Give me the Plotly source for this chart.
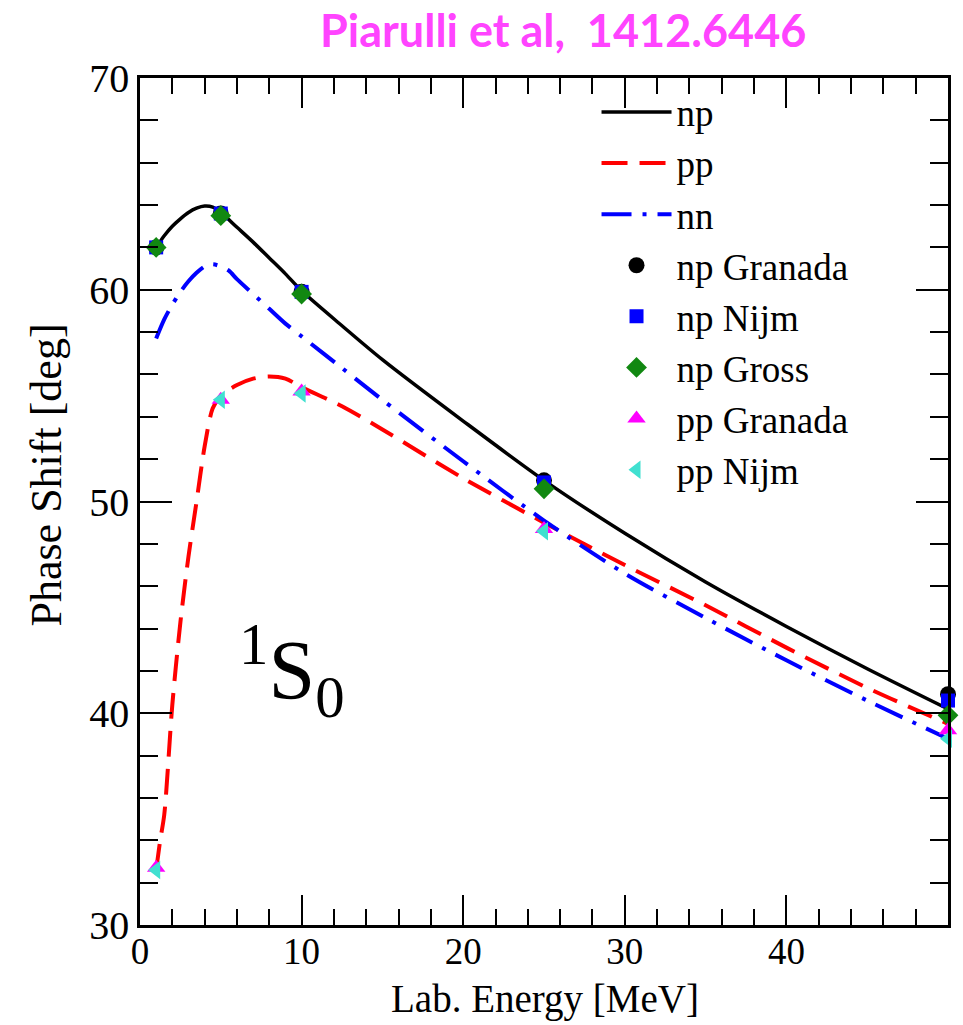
import plotly.graph_objects as go

# ---- data ----
E_np = [1, 1.5, 2, 2.5, 3, 3.5, 4, 4.5, 5, 6, 7, 8, 9, 10, 12.5, 15, 20, 25, 30, 35, 40, 45, 50]
np_curve = [62.0, 62.55, 63.0, 63.35, 63.65, 63.85, 63.95, 63.9, 63.65, 62.95, 62.25, 61.5, 60.75, 59.95,
            58.3, 56.7, 53.8, 51.0, 48.5, 46.2, 44.1, 42.1, 40.2]

E_pp = [1, 1.25, 1.5, 2, 2.5, 3, 3.5, 4, 4.5, 5, 6, 7, 8, 9, 10, 12.5, 15, 20, 25, 30, 35, 40, 45, 50]
pp_curve = [32.6, 34.0, 35.2, 40.4, 44.3, 47.4, 50.0, 52.6, 54.4, 55.0, 55.5, 55.8, 55.9, 55.8, 55.4,
            54.5, 53.4, 51.1, 49.0, 47.0, 45.1, 43.1, 41.2, 39.5]

E_nn = [1, 1.5, 2, 2.5, 3, 3.5, 4, 4.5, 5, 5.5, 6, 7, 8, 9, 10, 12.5, 15, 20, 25, 30, 35, 40, 45, 50]
nn_curve = [57.7, 58.6, 59.3, 59.9, 60.4, 60.8, 61.1, 61.2, 61.1, 60.9, 60.5, 59.8, 59.1, 58.4, 57.8,
            56.3, 54.8, 51.9, 49.1, 46.6, 44.5, 42.5, 40.6, 38.8]

E_pts = [1, 5, 10, 25, 50]
np_granada = [62.0, 63.6, 59.9, 51.0, 40.9]
np_nijm = [62.0, 63.6, 59.9, 50.9, 40.6]
np_gross = [62.0, 63.5, 59.8, 50.6, 39.9]
pp_granada = [32.7, 54.8, 55.2, 48.7, 39.2]
pp_nijm = [32.6, 54.8, 55.1, 48.6, 38.8]

x_ticks = [0, 10, 20, 30, 40]
y_ticks = [30, 40, 50, 60, 70]

SERIF = "Liberation Serif, Times New Roman, serif"

fig = go.Figure()

fig.add_trace(go.Scatter(x=E_np, y=np_curve, mode="lines", name="np",
                         line=dict(color="black", width=3.5, shape="spline", smoothing=0.8)))
fig.add_trace(go.Scatter(x=E_pp, y=pp_curve, mode="lines", name="pp",
                         line=dict(color="#ff0000", width=4, shape="spline", smoothing=0.8, dash="26px,12px")))
fig.add_trace(go.Scatter(x=E_nn, y=nn_curve, mode="lines", name="nn",
                         line=dict(color="#0000ff", width=4, shape="spline", smoothing=0.8,
                                   dash="30px,11px,4px,11px")))

fig.add_trace(go.Scatter(x=E_pts, y=np_granada, mode="markers", name="np Granada",
                         marker=dict(symbol="circle", size=16, color="black"), cliponaxis=False))
fig.add_trace(go.Scatter(x=E_pts, y=np_nijm, mode="markers", name="np Nijm",
                         marker=dict(symbol="square", size=14, color="#0000ff"), cliponaxis=False))
fig.add_trace(go.Scatter(x=E_pts, y=np_gross, mode="markers", name="np Gross",
                         marker=dict(symbol="diamond", size=16, color="#118811"), cliponaxis=False))
fig.add_trace(go.Scatter(x=E_pts, y=pp_granada, mode="markers", name="pp Granada",
                         marker=dict(symbol="triangle-up", size=16, color="#ff00ff"), cliponaxis=False))
fig.add_trace(go.Scatter(x=E_pts, y=pp_nijm, mode="markers", name="pp Nijm",
                         marker=dict(symbol="triangle-left", size=16, color="#40e0d0"), cliponaxis=False))

axis_common = dict(
    showline=True, linecolor="black", linewidth=2.5, mirror="allticks",
    ticks="inside", tickcolor="black", tickwidth=2, showgrid=False, zeroline=False,
)

fig.update_xaxes(range=[0, 50], tickvals=x_ticks, ticktext=[str(v) for v in x_ticks], ticklen=30,
                 tickfont=dict(family=SERIF, size=37, color="black"), ticklabelstandoff=-8,
                 minor=dict(dtick=2, ticks="inside", ticklen=16, tickwidth=2, tickcolor="black", showgrid=False),
                 **axis_common)
fig.update_yaxes(range=[30, 70], tickvals=y_ticks, ticktext=[str(v) for v in y_ticks], ticklen=32,
                 tickfont=dict(family=SERIF, size=40, color="black"),
                 minor=dict(dtick=2, ticks="inside", ticklen=18, tickwidth=2, tickcolor="black", showgrid=False),
                 **axis_common)

fig.update_layout(
    width=963, height=1025,
    margin=dict(l=140, r=15, t=78, b=100),
    plot_bgcolor="white", paper_bgcolor="white",
    showlegend=True,
    legend=dict(x=0.565, y=0.996, xanchor="left", yanchor="top",
                font=dict(family=SERIF, size=37, color="black"),
                bgcolor="rgba(0,0,0,0)", itemwidth=70, tracegroupgap=0),
    annotations=[
        dict(text="Piarulli et al,  1412.6446", xref="paper", yref="paper", x=0.5235, y=1.0,
             yshift=48, xanchor="center", yanchor="middle", showarrow=False,
             font=dict(family="Lato", size=45, color="#ff44ff", weight="bold")),
        dict(text="Phase Shift [deg]", xref="paper", yref="paper", x=-0.116, y=0.531,
             textangle=-90, xanchor="center", yanchor="middle", showarrow=False,
             font=dict(family=SERIF, size=44, color="black")),
        dict(text="Lab. Energy [MeV]", xref="paper", yref="paper", x=0.501, y=-0.087,
             xanchor="center", yanchor="middle", showarrow=False,
             font=dict(family=SERIF, size=39, color="black")),
        dict(text="<sup>1</sup>S<sub>0</sub>", xref="x", yref="y", x=6.0, y=42.0,
             xanchor="left", yanchor="middle", showarrow=False,
             font=dict(family=SERIF, size=84, color="black")),
    ],
)

fig.write_html("out.html")
